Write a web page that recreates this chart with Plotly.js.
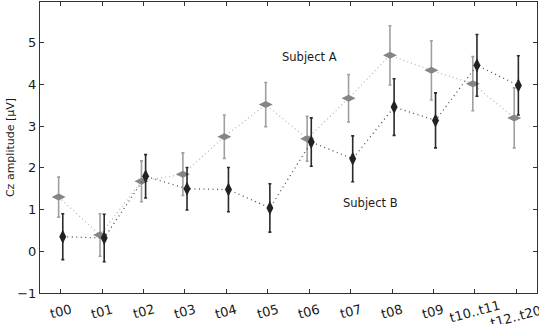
<!DOCTYPE html>
<html>
<head>
<meta charset="utf-8">
<script src="https://cdn.plot.ly/plotly-3.0.1.min.js"></script>
<style>html,body{margin:0;padding:0;background:#fff;}#chart{width:539px;height:324px;}</style>
</head>
<body>
<div id="chart"></div>
<script>
const categories = ["t00","t01","t02","t03","t04","t05","t06","t07","t08","t09","t10..t11","t12..t20"];
const subjectA = [1.30, 0.39, 1.68, 1.85, 2.75, 3.52, 2.70, 3.67, 4.70, 4.34, 4.02, 3.20];
const subjectAErr = [0.48, 0.51, 0.49, 0.51, 0.52, 0.53, 0.54, 0.57, 0.71, 0.71, 0.65, 0.72];
const subjectB = [0.35, 0.32, 1.80, 1.50, 1.48, 1.04, 2.62, 2.22, 3.46, 3.14, 4.46, 3.98];
const subjectBErr = [0.55, 0.57, 0.52, 0.51, 0.53, 0.58, 0.58, 0.55, 0.68, 0.66, 0.74, 0.71];
const yTicks = [-1, 0, 1, 2, 3, 4, 5];
const seriesLabels = ["Subject A", "Subject B"];

const idx = categories.map((c, i) => i);
const off = 0.05;
const font = "DejaVu Sans, sans-serif";

const traceA = {
  x: idx.map(i => i - off), y: subjectA, type: "scatter", mode: "lines+markers",
  name: seriesLabels[0],
  line: {color: "#b8b8b8", width: 1.3, dash: "1px,3px"},
  marker: {symbol: "diamond-wide", size: 10, color: "#858585", line: {width: 0}},
  error_y: {type: "data", array: subjectAErr, visible: true, color: "#a0a0a0", thickness: 1.6, width: 1.5}
};
const traceB = {
  x: idx.map(i => i + off), y: subjectB, type: "scatter", mode: "lines+markers",
  name: seriesLabels[1],
  line: {color: "#505050", width: 1.3, dash: "1px,3.5px"},
  marker: {symbol: "diamond-tall", size: 10, color: "#222222", line: {width: 0}},
  error_y: {type: "data", array: subjectBErr, visible: true, color: "#2a2a2a", thickness: 1.6, width: 1.5}
};

const tickAnns = categories.map((c, i) => ({
  x: i, y: -0.063, xref: "x", yref: "paper", text: c, showarrow: false,
  textangle: -15, xanchor: "center", yanchor: "middle",
  yshift: i === categories.length - 1 ? -5 : 0,
  font: {family: font, size: 13, color: "#1a1a1a"}
}));

const labelAnns = [
  {x: 6.0, y: 4.65, xref: "x", yref: "y", text: seriesLabels[0], showarrow: false,
   font: {family: font, size: 11.5, color: "#1a1a1a"}},
  {x: 7.47, y: 1.17, xref: "x", yref: "y", text: seriesLabels[1], showarrow: false,
   font: {family: font, size: 11.5, color: "#1a1a1a"}}
];

const layout = {
  width: 539, height: 324,
  margin: {l: 40, r: 2, t: 2, b: 31, pad: 0},
  paper_bgcolor: "#fff", plot_bgcolor: "#fff",
  showlegend: false,
  font: {family: font, color: "#1a1a1a"},
  xaxis: {
    range: [-0.5, 11.5], tickvals: idx, showticklabels: false,
    ticks: "inside", ticklen: 4, tickcolor: "#333", tickwidth: 1,
    showgrid: false, zeroline: false,
    showline: true, linecolor: "#333", linewidth: 1, mirror: "ticks"
  },
  yaxis: {
    range: [-1, 5.98], tickvals: yTicks, ticktext: yTicks.map(v => v < 0 ? "\u2212" + Math.abs(v) : String(v)),
    ticks: "inside", ticklen: 4, tickcolor: "#333", tickwidth: 1,
    tickfont: {family: font, size: 13, color: "#1a1a1a"},
    showgrid: false, zeroline: false,
    showline: true, linecolor: "#333", linewidth: 1, mirror: "ticks",
    title: {text: "Cz amplitude [µV]", font: {family: font, size: 11, color: "#1a1a1a"}, standoff: 0}
  },
  annotations: tickAnns.concat(labelAnns)
};

Plotly.newPlot("chart", [traceA, traceB], layout, {staticPlot: true, displayModeBar: false});
</script>
</body>
</html>
